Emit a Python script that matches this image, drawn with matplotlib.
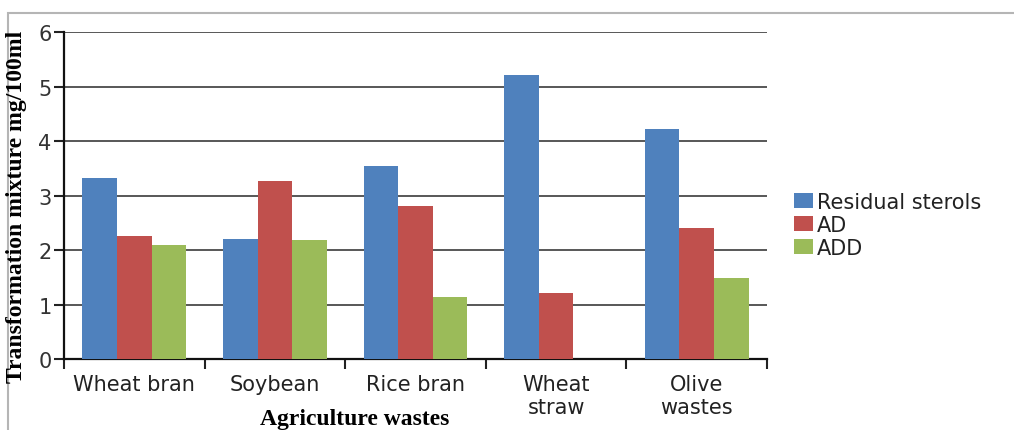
import numpy as np
import matplotlib
matplotlib.use("Agg")
import matplotlib.pyplot as plt
from matplotlib.patches import Rectangle

# Transformation products per agricultural waste (mg/100ml)
wastes = ["Wheat bran", "Soybean", "Rice bran", "Wheat\nstraw", "Olive\nwastes"]
residual_sterols = [3.33, 2.20, 3.55, 5.22, 4.22]
ad = [2.25, 3.26, 2.80, 1.21, 2.40]
add = [2.09, 2.19, 1.14, 0.0, 1.49]

series = [("Residual sterols", residual_sterols, "#4F81BD"),
          ("AD", ad, "#C0504D"),
          ("ADD", add, "#9BBB59")]

fig = plt.figure(figsize=(10.14, 4.31), dpi=100)
ax = fig.add_axes([0.0631, 0.1647, 0.6933, 0.7587])

x = np.arange(len(wastes))
width = 0.246
for i, (name, vals, color) in enumerate(series):
    ax.bar(x + (i - 1) * width, vals, width, color=color, label=name, zorder=3)

ax.set_xlim(-0.5, len(wastes) - 0.5)
ax.set_ylim(0, 6)
ax.set_yticks(range(0, 7))

# category labels in the middle, tick marks on the boundaries
ax.set_xticks(x)
ax.set_xticklabels(wastes, fontsize=15, family="DejaVu Sans", color="#222222",
                   linespacing=1.15)
ax.set_xticks(np.arange(-0.5, len(wastes)), minor=True)
ax.tick_params(axis="x", which="major", length=0, pad=11)
ax.tick_params(axis="x", which="minor", length=7, width=1.5, color="#222222")
ax.tick_params(axis="y", length=7, width=1.5, color="#222222", pad=2)
ax.set_yticklabels([str(v) for v in range(0, 7)], fontsize=15,
                   family="DejaVu Sans", color="#333333")

ax.grid(axis="y", color="#4a4a4a", linewidth=1.3, zorder=0)
for side in ["top", "right"]:
    ax.spines[side].set_visible(False)
for side in ["left", "bottom"]:
    ax.spines[side].set_linewidth(1.6)
    ax.spines[side].set_color("#111111")

fig.text(17 / 1014, 1 - 207 / 431, "Transformation mixture mg/100ml", rotation=90,
         ha="center", va="center", fontsize=17, fontweight="bold",
         family="Liberation Serif")
fig.text(355 / 1014, 1 - 420 / 431, "Agriculture wastes", ha="center",
         va="center", fontsize=17, fontweight="bold", family="Liberation Serif")

fig.legend(loc="center left", bbox_to_anchor=(775 / 1014, 1 - 226 / 431),
           frameon=False, prop={"family": "DejaVu Sans", "size": 15},
           handlelength=0.9, handleheight=0.75, handletextpad=0.2,
           labelspacing=0.15, labelcolor="#222222")

# outer chart frame
fig.patches.append(Rectangle((8 / 1014, -0.1), 1.1, 1 - 14 / 431 + 0.1,
                             transform=fig.transFigure, fill=False,
                             edgecolor="#b5b5b5", linewidth=1.5))

fig.savefig("out.png", dpi=100)
